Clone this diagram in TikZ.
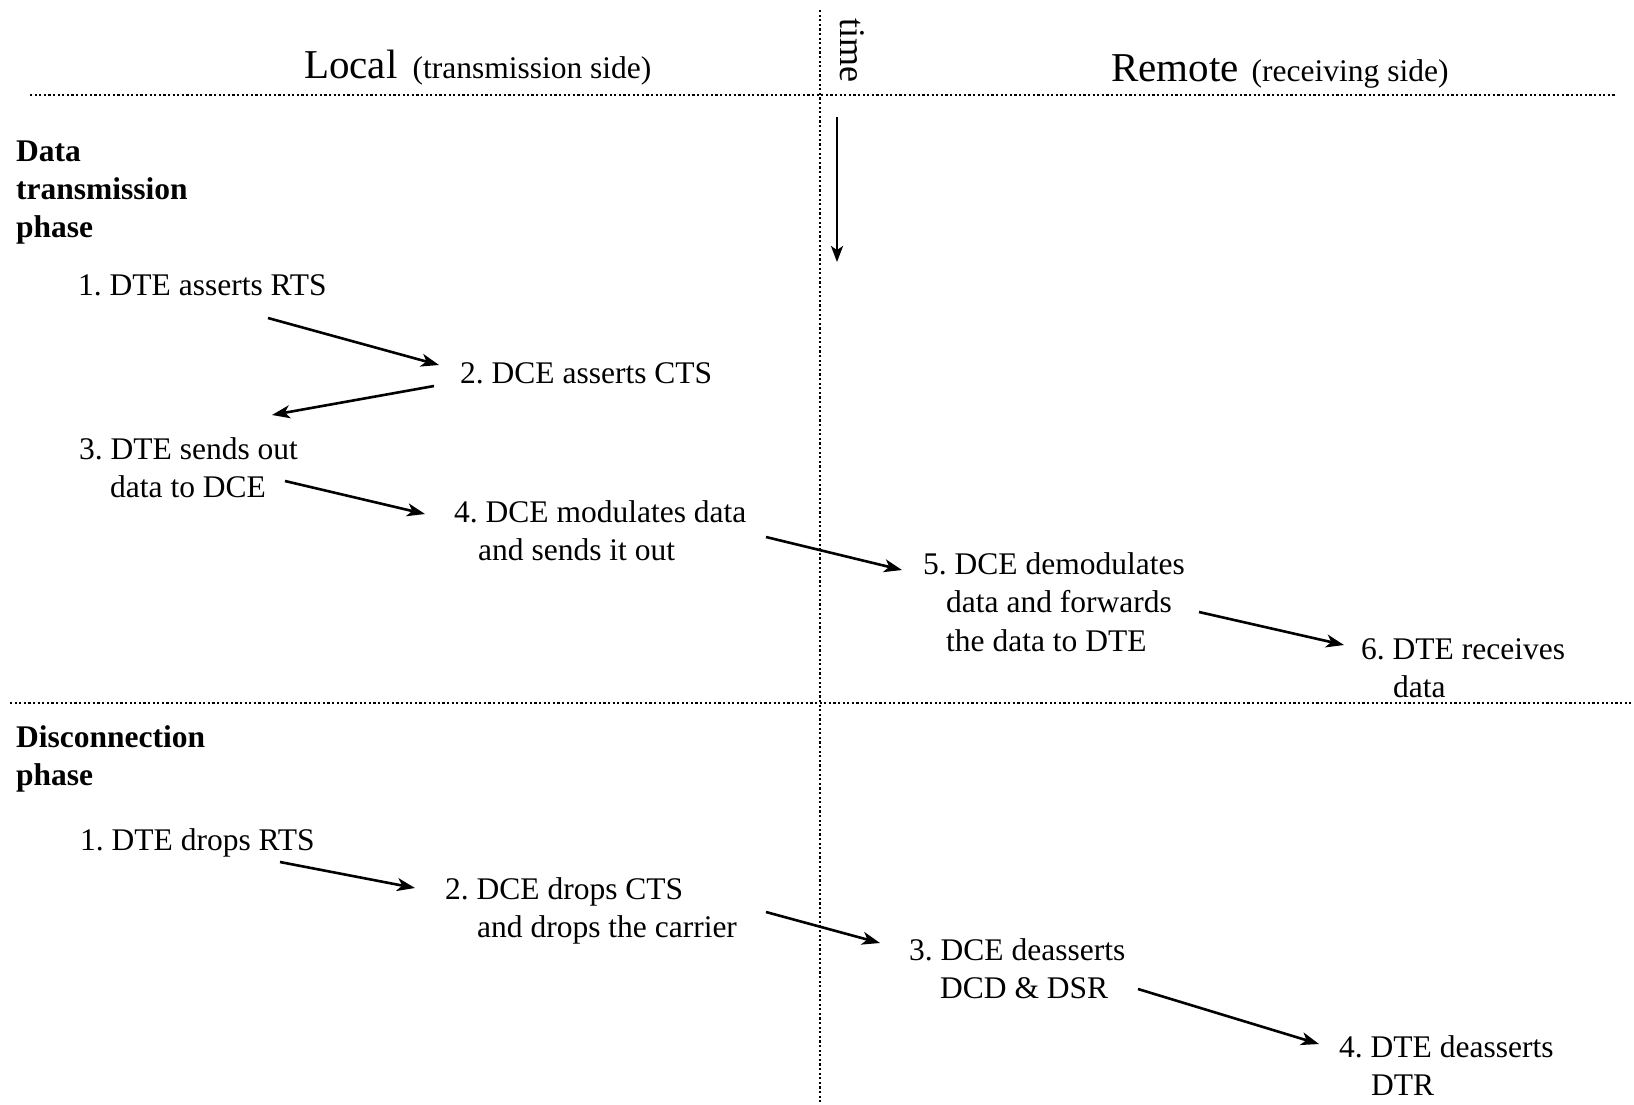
\documentclass[tikz,border=0pt]{standalone}
\usepackage{fontspec}
\setmainfont{Liberation Serif}
\frenchspacing
\usetikzlibrary{arrows.meta}
\begin{document}
\begin{tikzpicture}[x=1pt,y=-1pt,
  txt/.style={anchor=base west, inner sep=0pt, align=left,
              font=\fontsize{31.5}{38.5}\selectfont},
  head/.style={txt, font=\fontsize{31.5}{38}\selectfont\bfseries},
  divider/.style={line width=2.4pt, dash pattern=on 2.2pt off 2.4pt},
  flow/.style={line width=2.6pt, -{Stealth[length=18pt,width=13pt,inset=5pt]}},
  timeline/.style={line width=2.2pt, -{Stealth[length=16pt,width=12pt,inset=4pt]}},
]
% canvas
\path[use as bounding box, fill=white] (0,0) rectangle (1634,1104);

% dividers
\draw[divider] (30,95) -- (1615,95);
\draw[divider] (10,703) -- (1634,703);
\draw[divider] (820,10) -- (820,1104);

% column titles
\node[txt] (local) at (304,78)
  {{\fontsize{41}{48}\selectfont Local}\hspace{15pt}(transmission side)};
\node[txt] (remote) at (1111,81)
  {{\fontsize{41}{48}\selectfont Remote}\hspace{13pt}(receiving side)};

% time axis
\node[rotate=-90, inner sep=0pt, font=\fontsize{36}{40}\selectfont] (time) at (852,50) {time};
\coordinate (tA) at (837,117);
\coordinate (tB) at (837,262);
\draw[timeline] (tA) -- (tB);

% data transmission phase (multi-line nodes sit on their last baseline)
\node[head] (dtp) at (16,237) {Data\\transmission\\phase};
\node[txt] (d1) at (78,295) {1. DTE asserts RTS};
\node[txt] (d2) at (460,383) {2. DCE asserts CTS};
\node[txt] (d3) at (79,497.5) {3. DTE sends out\\\hspace*{31pt}data to DCE};
\node[txt] (d4) at (454,560.5) {4. DCE modulates data\\\hspace*{24pt}and sends it out};
\node[txt] (d5) at (923,651) {5. DCE demodulates\\\hspace*{23pt}data and forwards\\\hspace*{23pt}the data to DTE};
\node[txt] (d6) at (1361,697.5) {6. DTE receives\\\hspace*{32pt}data};

\coordinate (a1s) at (268,318);  \coordinate (a1e) at (439,365);
\coordinate (a2s) at (434,386);  \coordinate (a2e) at (272,415);
\coordinate (a3s) at (285,481);  \coordinate (a3e) at (425,514);
\coordinate (a4s) at (766,537);  \coordinate (a4e) at (902,570);
\coordinate (a5s) at (1199,612); \coordinate (a5e) at (1344,645);
\draw[flow] (a1s) -- (a1e);
\draw[flow] (a2s) -- (a2e);
\draw[flow] (a3s) -- (a3e);
\draw[flow] (a4s) -- (a4e);
\draw[flow] (a5s) -- (a5e);

% disconnection phase
\node[head] (dcp) at (16,785) {Disconnection\\phase};
\node[txt] (e1) at (80,850) {1. DTE drops RTS};
\node[txt] (e2) at (445,937.5) {2. DCE drops CTS\\\hspace*{32pt}and drops the carrier};
\node[txt] (e3) at (909,998.5) {3. DCE deasserts\\\hspace*{31pt}DCD \& DSR};
\node[txt] (e4) at (1339,1095.5) {4. DTE deasserts\\\hspace*{32pt}DTR};

\coordinate (b1s) at (280,862);  \coordinate (b1e) at (415,888);
\coordinate (b2s) at (766,912);  \coordinate (b2e) at (880,943);
\coordinate (b3s) at (1138,989); \coordinate (b3e) at (1319,1044);
\draw[flow] (b1s) -- (b1e);
\draw[flow] (b2s) -- (b2e);
\draw[flow] (b3s) -- (b3e);
\end{tikzpicture}
\end{document}
